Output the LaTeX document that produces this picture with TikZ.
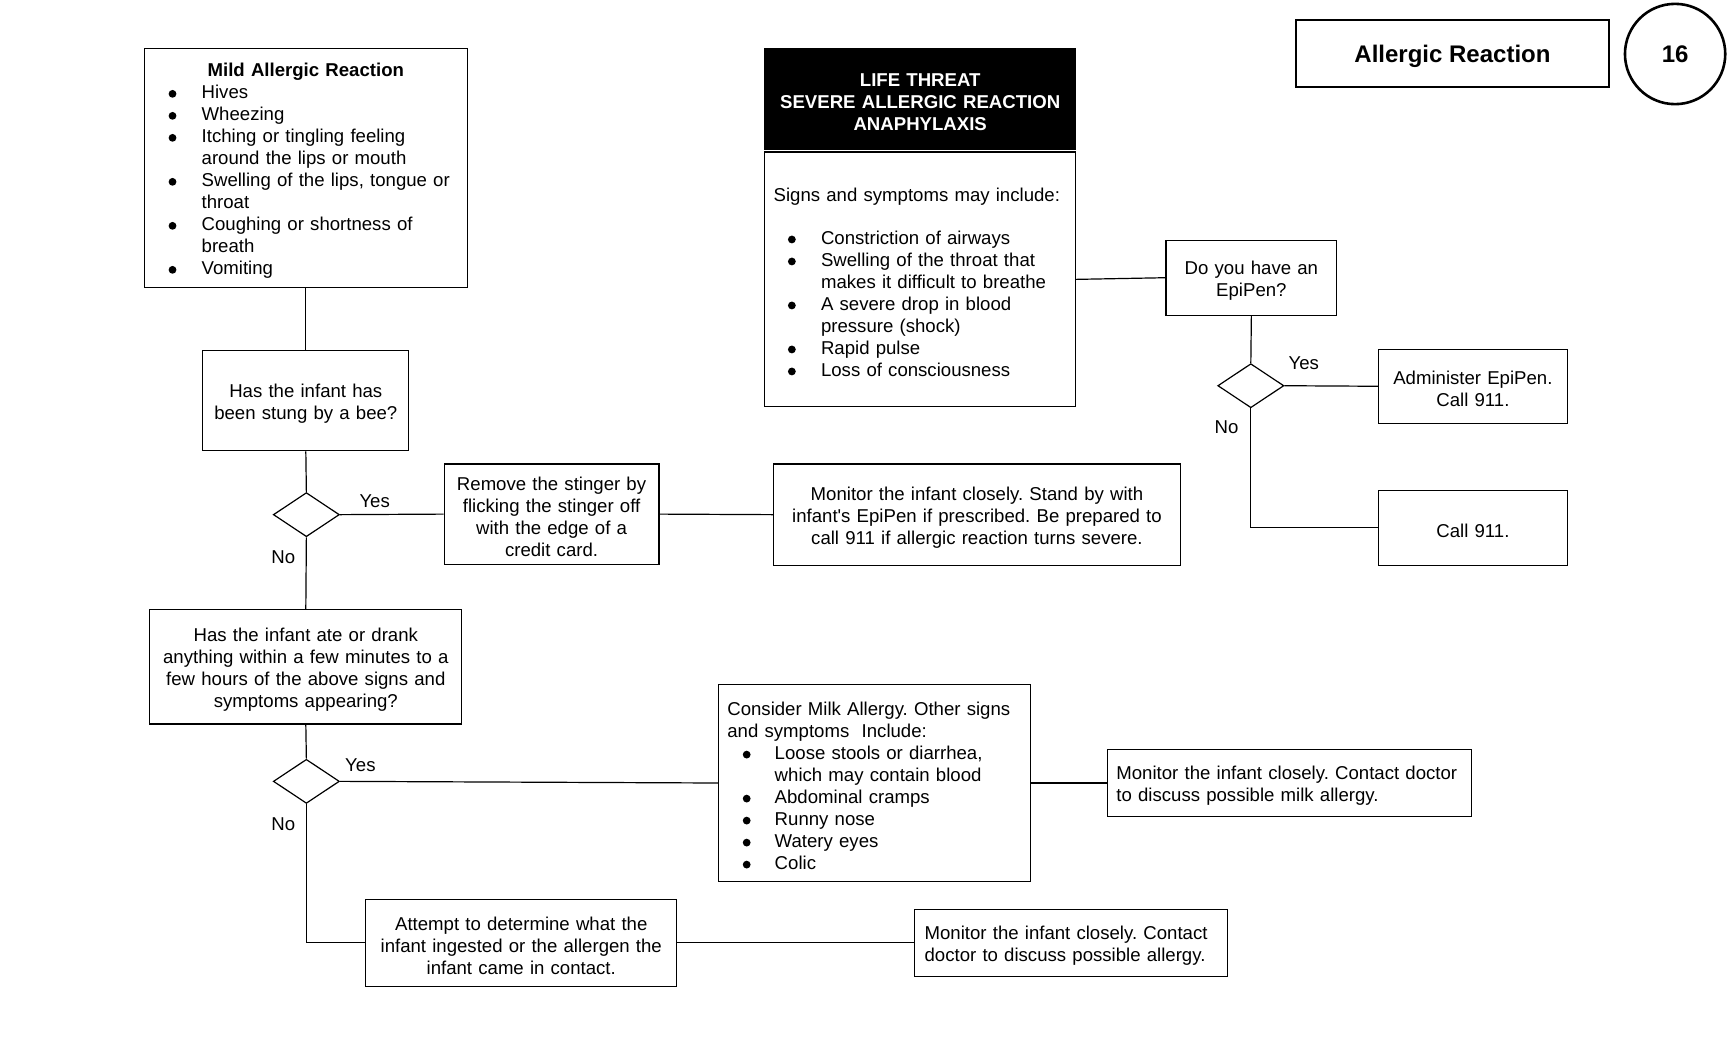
\documentclass[tikz,border=0pt]{standalone}
\usepackage{fontspec}
\setmainfont{Liberation Sans}
\usetikzlibrary{shapes.geometric}
\frenchspacing
\newlength\ux
\setlength\ux{0.5510204pt}
\newcommand\bigbul{\raisebox{2.4pt}{\tikz[baseline=0pt]\fill (1.95pt,0) circle (1.95pt);}}
\newcommand\bitem[3]{\hspace*{#1\ux}\makebox[#2\ux][l]{\bigbul}#3}
\newcommand\topstrut{\rule{0pt}{9.5pt}}
\begin{document}
\begin{tikzpicture}[x=\ux,y=-\ux,
  every node/.style={font=\fontsize{9.3}{11}\selectfont, inner sep=0pt},
  box/.style={draw, line width=0.6pt, rectangle, align=center},
  lbox/.style={draw, line width=0.6pt, rectangle, align=left},
  dia/.style={draw, line width=0.6pt, diamond, minimum width=60\ux, minimum height=40\ux},
  conn/.style={line width=0.6pt},
  lab/.style={font=\fontsize{9.3}{11}\selectfont}
]
\useasboundingbox (0,0) rectangle (1568,958.2);

% header
\node[draw, line width=1.3pt, minimum width=284\ux, minimum height=61\ux, text height=11.5pt, text depth=2.5pt, font=\fontsize{12}{14}\selectfont\bfseries] (title) at (1318,48.5) {Allergic Reaction};
\node[draw, circle, line width=1.3pt, minimum size=91\ux, font=\fontsize{12}{14}\selectfont\bfseries] (num) at (1520,49) {16};

% left column
\node[lbox, minimum width=293\ux, minimum height=217\ux, text width=293\ux] (mild) at (277.5,152.5) {%
\topstrut\makebox[293\ux][c]{\textbf{Mild Allergic Reaction}}\\
\bitem{22}{30}{Hives}\\
\bitem{22}{30}{Wheezing}\\
\bitem{22}{30}{Itching or tingling feeling}\\
\hspace*{52\ux}around the lips or mouth\\
\bitem{22}{30}{Swelling of the lips, tongue or}\\
\hspace*{52\ux}throat\\
\bitem{22}{30}{Coughing or shortness of}\\
\hspace*{52\ux}breath\\
\bitem{22}{30}{Vomiting}};

\node[box, minimum width=187\ux, minimum height=91\ux, text width=187\ux] (bee) at (277.5,363.5) {\topstrut Has the infant has\\been stung by a bee?};
\node[dia] (d1) at (278,467) {};
\node[box, minimum width=195\ux, minimum height=91\ux, text width=195\ux] (sting) at (500.5,466.5) {\topstrut Remove the stinger by\\flicking the stinger off\\with the edge of a\\credit card.};
\node[box, minimum width=369\ux, minimum height=92\ux, text width=369\ux] (mon1) at (886.5,467) {\topstrut Monitor the infant closely. Stand by with\\infant\textquotesingle s EpiPen if prescribed. Be prepared to\\call 911 if allergic reaction turns severe.};

\node[box, minimum width=283\ux, minimum height=104\ux, text width=283\ux] (ate) at (277.5,605) {\topstrut Has the infant ate or drank\\anything within a few minutes to a\\few hours of the above signs and\\symptoms appearing?};
\node[dia] (d2) at (278,709) {};
\node[lbox, minimum width=283\ux, minimum height=179\ux, text width=283\ux] (milk) at (793.5,710.5) {%
\topstrut\hspace*{8\ux}Consider Milk Allergy. Other signs\\
\hspace*{8\ux}and symptoms\ \ Include:\\
\bitem{22}{29}{Loose stools or diarrhea,}\\
\hspace*{51\ux}which may contain blood\\
\bitem{22}{29}{Abdominal cramps}\\
\bitem{22}{29}{Runny nose}\\
\bitem{22}{29}{Watery eyes}\\
\bitem{22}{29}{Colic}};
\node[lbox, minimum width=330\ux, minimum height=61\ux, text width=330\ux] (mon2) at (1170,710.5) {%
\topstrut\hspace*{8\ux}Monitor the infant closely. Contact doctor\\
\hspace*{8\ux}to discuss possible milk allergy.};
\node[box, minimum width=282\ux, minimum height=79\ux, text width=282\ux] (det) at (473,855.5) {\topstrut Attempt to determine what the\\infant ingested or the allergen the\\infant came in contact.};
\node[lbox, minimum width=284\ux, minimum height=61\ux, text width=284\ux] (mon3) at (972,855.5) {%
\topstrut\hspace*{9\ux}Monitor the infant closely. Contact\\
\hspace*{9\ux}doctor to discuss possible allergy.};

% severe
\node[box, fill=black, text=white, minimum width=282\ux, minimum height=92\ux, text width=282\ux, font=\fontsize{9.3}{11}\selectfont\bfseries] (life) at (835,90) {\topstrut LIFE THREAT\\SEVERE ALLERGIC REACTION\\ANAPHYLAXIS};
\node[lbox, minimum width=282\ux, minimum height=231\ux, text width=282\ux] (signs) at (835,253.5) {%
\topstrut\hspace*{8\ux}Signs and symptoms may include:\\[10.5pt]
\bitem{21}{30}{Constriction of airways}\\
\bitem{21}{30}{Swelling of the throat that}\\
\hspace*{51\ux}makes it difficult to breathe\\
\bitem{21}{30}{A severe drop in blood}\\
\hspace*{51\ux}pressure (shock)\\
\bitem{21}{30}{Rapid pulse}\\
\bitem{21}{30}{Loss of consciousness}};
\node[box, minimum width=155\ux, minimum height=68\ux, text width=155\ux] (epi) at (1135.5,252) {\topstrut Do you have an\\EpiPen?};
\node[dia] (d3) at (1135,350) {};
\node[box, minimum width=171\ux, minimum height=67\ux, text width=171\ux] (admin) at (1336.5,350.5) {\topstrut Administer EpiPen.\\Call 911.};
\node[box, minimum width=171\ux, minimum height=68\ux, text width=171\ux] (call) at (1336.5,479) {\topstrut Call 911.};

% labels
\node[lab] (y1) at (340,455) {Yes};
\node[lab] (n1) at (257,506) {No};
\node[lab] (y2) at (327,694) {Yes};
\node[lab] (n2) at (257,748) {No};
\node[lab] (y3) at (1183,330) {Yes};
\node[lab] (n3) at (1113,388) {No};

% connectors
\draw[conn] (mild.south) -- (bee.north);
\draw[conn] (bee.south) -- (d1.north);
\draw[conn] (d1.east) -- (sting.west);
\draw[conn] (sting.east) -- (mon1.west);
\draw[conn] (d1.south) -- (ate.north);
\draw[conn] (ate.south) -- (d2.north);
\draw[conn] (d2.east) -- (milk.west);
\draw[conn] (milk.east) -- (mon2.west);
\draw[conn] (d2.south) |- (det.west);
\draw[conn] (det.east) -- (mon3.west);
\draw[conn] (signs.east) -- (epi.west);
\draw[conn] (epi.south) -- (d3.north);
\draw[conn] (d3.east) -- (admin.west);
\draw[conn] (d3.south) |- (call.west);
\end{tikzpicture}
\end{document}
